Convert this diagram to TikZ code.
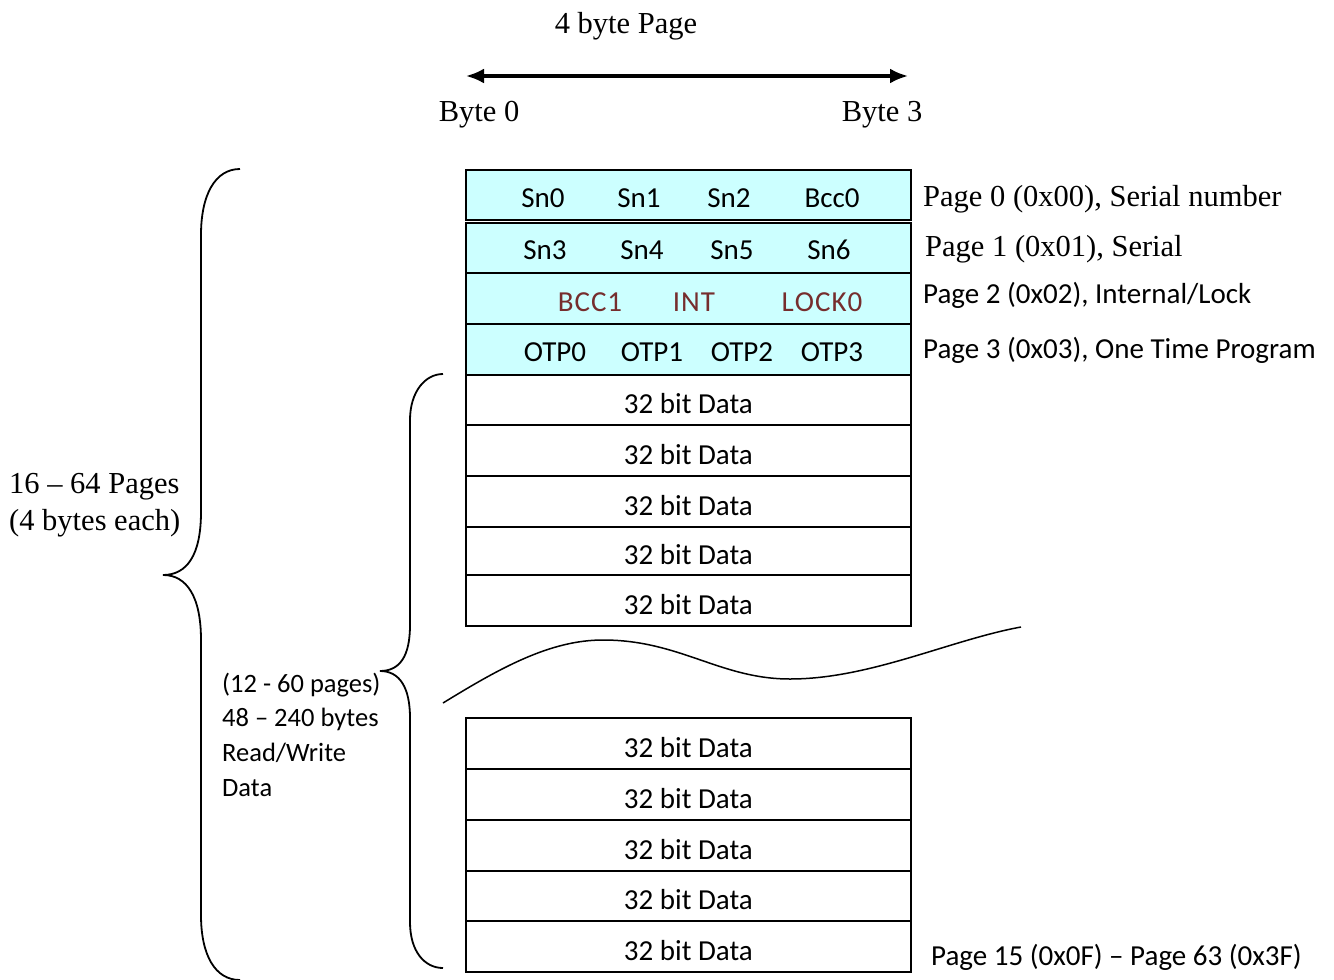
\documentclass[tikz,border=0pt]{standalone}
\usepackage{fontspec}
\setmainfont{Liberation Serif}
\newfontfamily\calib{Carlito}
\usetikzlibrary{arrows.meta,calc}
\definecolor{rowcyan}{RGB}{204,255,255}
\definecolor{lockred}{RGB}{118,45,45}
\begin{document}
\begin{tikzpicture}[x=1pt,y=-1pt,
  serif/.style={font=\fontsize{30.5}{36}\selectfont, inner sep=0pt},
  sans/.style={font=\calib\fontsize{29}{34}\selectfont, inner sep=0pt},
  sanssmall/.style={font=\calib\fontsize{26.5}{34}\selectfont, inner sep=0pt, anchor=west},
  toprow/.style={draw=black, line width=1.8pt, fill=rowcyan, minimum width=445pt, minimum height=#1, inner sep=0pt, anchor=north west},
  datarow/.style={draw=black, line width=1.8pt, fill=white, minimum width=445pt, minimum height=#1, inner sep=0pt, anchor=north west},
  brace/.style={draw=black, line width=1.8pt},
]
\useasboundingbox (0,0) rectangle (1334,980);

% header
\node[serif] (title) at (626,26) {4 byte Page};
\coordinate (a0) at (466,76);
\coordinate (a1) at (908,76);
\draw[line width=3.2pt, {Latex[length=18pt,width=15pt]}-{Latex[length=18pt,width=15pt]}] (a0) -- (a1);
\node[serif] (b0) at (479,115) {Byte 0};
\node[serif] (b3) at (882,115) {Byte 3};

% cyan rows
\node[toprow=50pt] (r0) at (465,169) {};
\node[toprow=50pt] (r1) at (465,222) {};
\node[toprow=51pt] (r2) at (465,272) {};
\node[toprow=51pt] (r3) at (465,323) {};

\node[sans] (sn0) at (543,198) {Sn0};
\node[sans] (sn1) at (639,198) {Sn1};
\node[sans] (sn2) at (729,198) {Sn2};
\node[sans] (bcc0) at (832,198) {Bcc0};

\node[sans] (sn3) at (545,250) {Sn3};
\node[sans] (sn4) at (642,250) {Sn4};
\node[sans] (sn5) at (732,250) {Sn5};
\node[sans] (sn6) at (829,250) {Sn6};

\node[sans, text=lockred] (bcc1) at (590,302) {B\kern1ptC\kern1ptC\kern1pt1};
\node[sans, text=lockred] (int) at (694,302) {I\kern1ptN\kern1ptT};
\node[sans, text=lockred] (lock0) at (822,302) {L\kern1ptO\kern1ptC\kern1ptK\kern1pt0};

\node[sans] (otp0) at (555,352) {OTP0};
\node[sans] (otp1) at (652,352) {OTP1};
\node[sans] (otp2) at (742,352) {OTP2};
\node[sans] (otp3) at (832,352) {OTP3};

% upper data rows
\node[datarow=50pt] (w1) at (465,374) {};
\node[datarow=51pt] (w2) at (465,424) {};
\node[datarow=51pt] (w3) at (465,475) {};
\node[datarow=48pt] (w4) at (465,526) {};
\node[datarow=51pt] (w5) at (465,574) {};
\foreach \n in {w1,w2,w3,w4,w5}{
  \path (\n.center) ++(0,4) node[sans] {32 bit Data};
}

% lower data rows
\node[datarow=51pt] (l1) at (465,717) {};
\node[datarow=51pt] (l2) at (465,768) {};
\node[datarow=51pt] (l3) at (465,819) {};
\node[datarow=50pt] (l4) at (465,870) {};
\node[datarow=51pt] (l5) at (465,920) {};
\foreach \n in {l1,l2,l3,l4,l5}{
  \path (\n.center) ++(0,4) node[sans] {32 bit Data};
}

% wavy break line
\coordinate (wv0) at (443,703);
\coordinate (wv1) at (1021,627);
\draw[line width=1.5pt] (wv0) .. controls (500,668) and (550,640) .. (603,640)
  .. controls (680,640) and (720,679) .. (790,679)
  .. controls (870,679) and (950,640) .. (wv1);

% right labels
\node[serif, anchor=west] (p0) at (923,199) {Page 0 (0x00), Serial number};
\node[serif, anchor=west] (p1) at (925,249) {Page 1 (0x01), Serial};
\node[sans, anchor=west] (p2) at (923,295) {Page 2 (0x02), Internal/Lock};
\node[sans, anchor=west] (p3) at (923,350) {Page 3 (0x03), One Time Program};
\node[sans, anchor=west] (p15) at (931,957) {Page 15 (0x0F) – Page 63 (0x3F)};

% big brace
\draw[brace] (240,169) .. controls (215,169) and (201,195) .. (201,235)
  -- (201,512) .. controls (201,555) and (187,575) .. (163,575)
  .. controls (187,575) and (201,597) .. (201,640)
  -- (201,915) .. controls (201,955) and (215,980) .. (240,980);
\node[serif, anchor=west] (pages1) at (9,487) {16 – 64 Pages};
\node[serif, anchor=west] (pages2) at (9,523) {(4 bytes each)};

% small brace
\draw[brace] (443,374) .. controls (425,374) and (410,392) .. (410,420)
  -- (410,625) .. controls (410,656) and (400,671) .. (380,671)
  .. controls (400,671) and (410,688) .. (410,718)
  -- (410,922) .. controls (410,952) and (425,968) .. (443,968);
\node[sanssmall] (rw1) at (222,685) {(12 - 60 pages)};
\node[sanssmall] (rw2) at (222,719) {48 – 240 bytes};
\node[sanssmall] (rw3) at (222,753) {Read/Write};
\node[sanssmall] (rw4) at (222,788) {Data};
\end{tikzpicture}
\end{document}
